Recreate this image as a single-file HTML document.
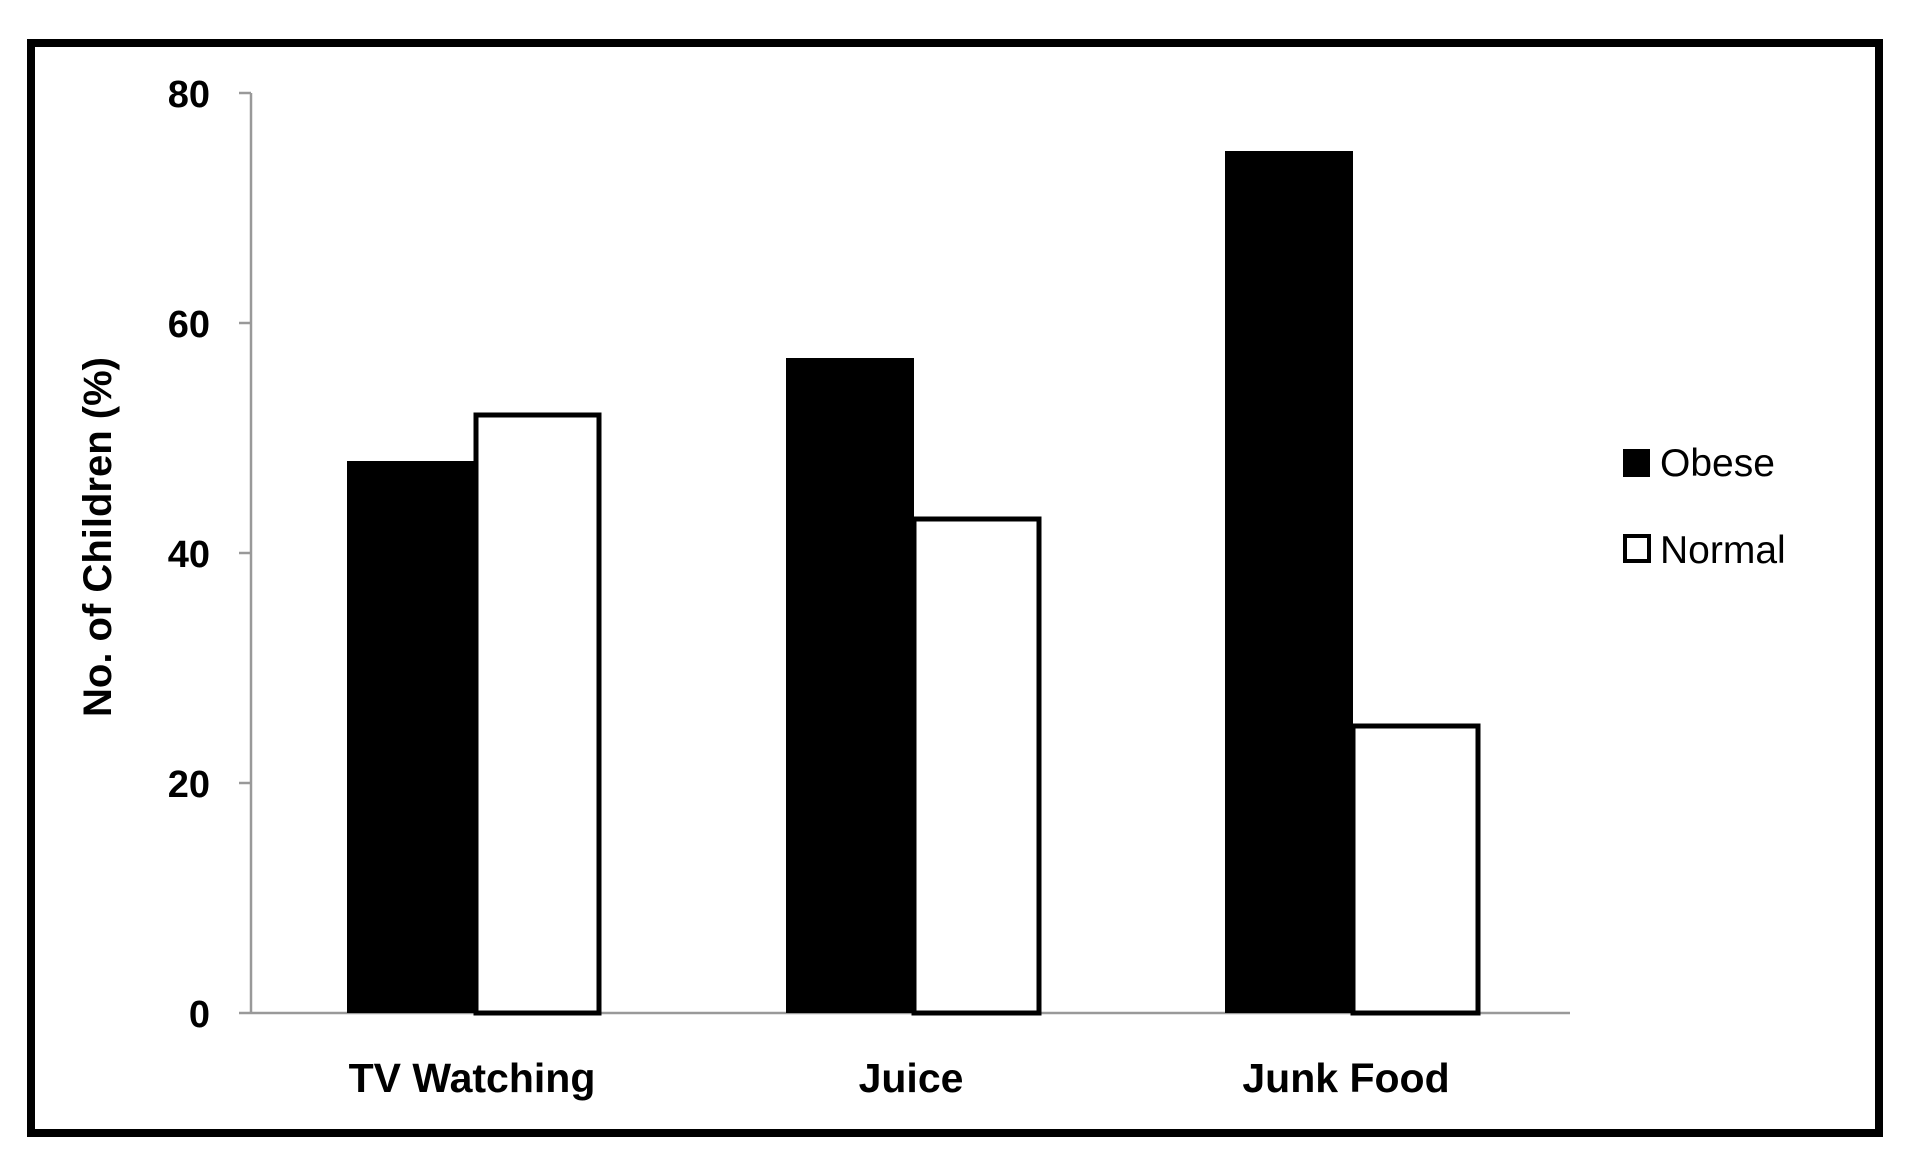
<!DOCTYPE html>
<html><head><style>body{margin:0;background:#fff}</style></head><body>
<svg width="1920" height="1165" xmlns="http://www.w3.org/2000/svg" font-family="Liberation Sans, sans-serif">
<rect x="0" y="0" width="1920" height="1165" fill="#fff"/>
<rect x="31" y="43" width="1848" height="1090" fill="none" stroke="#000" stroke-width="8"/>
<g stroke="#999" stroke-width="2.5">
<line x1="251" y1="93" x2="251" y2="1013"/>
<line x1="239" y1="1013" x2="1570" y2="1013"/>
<line x1="239" y1="93" x2="251" y2="93"/>
<line x1="239" y1="323" x2="251" y2="323"/>
<line x1="239" y1="553" x2="251" y2="553"/>
<line x1="239" y1="783" x2="251" y2="783"/>
</g>
<g font-weight="bold" font-size="38" text-anchor="end" fill="#000">
<text x="210" y="107">80</text>
<text x="210" y="337">60</text>
<text x="210" y="567">40</text>
<text x="210" y="797">20</text>
<text x="210" y="1027">0</text>
</g>
<text transform="translate(111,537) rotate(-90)" text-anchor="middle" font-weight="bold" font-size="40">No. of Children (%)</text>
<g fill="#000">
<rect x="347" y="461" width="129" height="552"/>
<rect x="786" y="358" width="128" height="655"/>
<rect x="1225" y="151" width="128" height="862"/>
</g>
<g fill="#fff" stroke="#000" stroke-width="5">
<rect x="476" y="415" width="123" height="598"/>
<rect x="914" y="519" width="125" height="494"/>
<rect x="1353" y="726" width="125" height="287"/>
</g>
<g font-weight="bold" font-size="41" text-anchor="middle">
<text x="472" y="1092">TV Watching</text>
<text x="911" y="1092">Juice</text>
<text x="1346" y="1092">Junk Food</text>
</g>
<rect x="1623" y="449" width="27" height="28" fill="#000"/>
<rect x="1625" y="536" width="24" height="25" fill="#fff" stroke="#000" stroke-width="4"/>
<g font-size="39">
<text x="1660" y="476">Obese</text>
<text x="1660" y="563">Normal</text>
</g>
</svg>
</body></html>
